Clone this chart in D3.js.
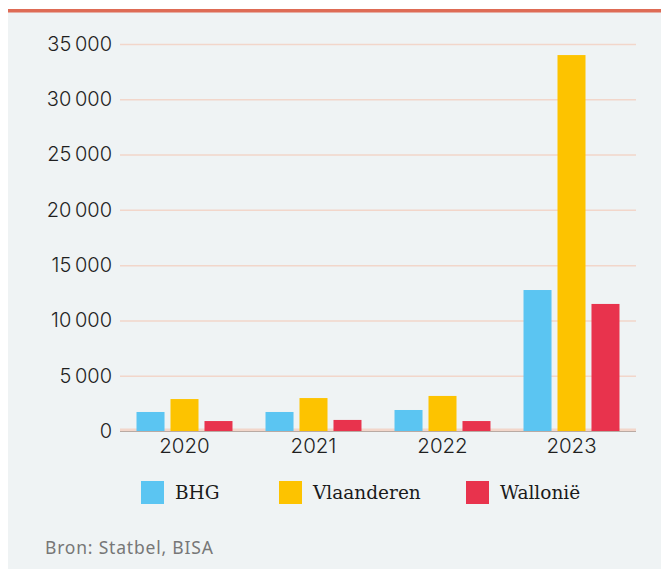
<!DOCTYPE html>
<html>
<head>
<meta charset="utf-8">
<script src="https://cdn.jsdelivr.net/npm/d3@7"></script>
<style>
  body { margin: 0; background: #ffffff; }
  svg { display: block; }
</style>
</head>
<body>
<div id="chart"></div>
<script>
const years = ["2020", "2021", "2022", "2023"];
const regions = ["BHG", "Vlaanderen", "Wallonië"];
const colors = ["#5bc5f2", "#fdc300", "#e8334d"];
const bhg = [1720, 1720, 1900, 12750];
const vlaanderen = [2890, 2980, 3170, 34000];
const wallonie = [900, 1000, 900, 11490];
const yTicks = [0, 5000, 10000, 15000, 20000, 25000, 30000, 35000];
const source = "Bron: Statbel, BISA";

const width = 661;
const height = 569;
const margin = { top: 44, right: 25, bottom: 138, left: 120 };
const innerWidth = width - margin.left - margin.right;
const innerHeight = height - margin.top - margin.bottom;

const seriesValues = [bhg, vlaanderen, wallonie];
const data = years.map((y, i) => ({
  year: y,
  values: regions.map((r, j) => ({ region: r, value: seriesValues[j][i], color: colors[j] }))
}));

const svg = d3.select("#chart")
  .append("svg")
  .attr("width", width)
  .attr("height", height);

// panel background + top rule
svg.append("rect")
  .attr("x", 8).attr("y", 9)
  .attr("width", width - 8).attr("height", height - 9)
  .attr("fill", "#eff3f4");
svg.append("rect")
  .attr("x", 8).attr("y", 9)
  .attr("width", width - 8).attr("height", 3.5)
  .attr("fill", "#de6b55");

const g = svg.append("g")
  .attr("transform", `translate(${margin.left}, ${margin.top})`);

const x0 = d3.scaleBand()
  .domain(years)
  .range([0, innerWidth])
  .paddingInner(0.256)
  .paddingOuter(0.128);

const x1 = d3.scaleBand()
  .domain(regions)
  .range([0, x0.bandwidth()])
  .paddingInner(0.176)
  .paddingOuter(0);

const yScale = d3.scaleLinear()
  .domain([0, 35000])
  .range([innerHeight, 0]);

const fmt = v => d3.format(",")(v).replace(/,/g, "\u2009");

// gridlines and y labels
const yAxis = d3.axisLeft(yScale)
  .tickValues(yTicks)
  .tickSize(-innerWidth)
  .tickPadding(8)
  .tickFormat(fmt);

const yg = g.append("g")
  .attr("class", "y-axis")
  .call(yAxis)
  .attr("font-family", "Inter, 'Noto Sans', sans-serif")
  .attr("font-size", 20);
yg.select(".domain").remove();
yg.selectAll(".tick line")
  .attr("stroke", "#f2d6ca")
  .attr("stroke-width", d => d === 0 ? 3 : 1.5)
  .attr("transform", d => d === 0 ? "translate(0,-1.5)" : null);
yg.selectAll(".tick text")
  .attr("fill", "#1f1f1f")
  .attr("font-weight", 300);

// dark baseline
g.append("line")
  .attr("x1", 0).attr("x2", innerWidth)
  .attr("y1", yScale(0) + 0.5).attr("y2", yScale(0) + 0.5)
  .attr("stroke", "#b9aaa3")
  .attr("stroke-width", 1);

// bars
const groups = g.selectAll(".year")
  .data(data)
  .join("g")
  .attr("class", "year")
  .attr("transform", d => `translate(${x0(d.year)}, 0)`);

groups.selectAll("rect")
  .data(d => d.values)
  .join("rect")
  .attr("x", d => x1(d.region))
  .attr("y", d => yScale(d.value))
  .attr("width", x1.bandwidth())
  .attr("height", d => yScale(0) - yScale(d.value))
  .attr("fill", d => d.color);

// x labels
const xAxis = d3.axisBottom(x0).tickSize(0).tickPadding(7);
const xg = g.append("g")
  .attr("class", "x-axis")
  .attr("transform", `translate(0, ${innerHeight})`)
  .call(xAxis)
  .attr("font-family", "Inter, 'Noto Sans', sans-serif")
  .attr("font-size", 20.5);
xg.select(".domain").remove();
xg.selectAll(".tick text")
  .attr("fill", "#1f1f1f")
  .attr("font-weight", 300);

// legend
const legendX = [141, 279, 466];
const legend = svg.append("g")
  .attr("font-family", "'DejaVu Serif', serif")
  .attr("font-size", 18.5)
  .selectAll("g")
  .data(regions)
  .join("g")
  .attr("transform", (d, i) => `translate(${legendX[i]}, 481)`);
legend.append("rect")
  .attr("width", 23)
  .attr("height", 23)
  .attr("fill", (d, i) => colors[i]);
legend.append("text")
  .attr("x", 34)
  .attr("y", 18)
  .attr("fill", "#1a1a1a")
  .text(d => d);

// source
svg.append("text")
  .attr("x", 45)
  .attr("y", 554)
  .attr("fill", "#777777")
  .attr("font-family", "'Noto Sans', sans-serif")
  .attr("font-size", 17.5)
  .attr("letter-spacing", 0.8)
  .text(source);
</script>
</body>
</html>
